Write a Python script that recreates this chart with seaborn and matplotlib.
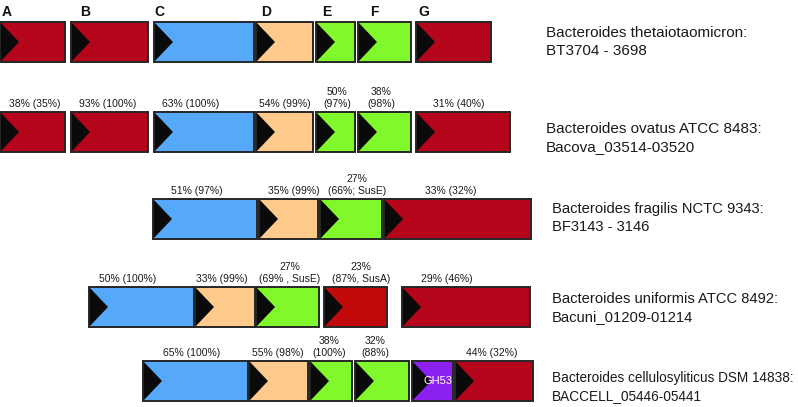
import matplotlib
matplotlib.use("Agg")
import matplotlib.pyplot as plt
from matplotlib.patches import Polygon, Rectangle
import seaborn as sns

# gene cluster data (positions, in map units)
species = ["Bacteroides thetaiotaomicron:", "Bacteroides ovatus ATCC 8483:",
           "Bacteroides fragilis NCTC 9343:", "Bacteroides uniformis ATCC 8492:",
           "Bacteroides cellulosyliticus DSM 14838:"]
loci = ["BT3704 - 3698", "Bacova_03514-03520", "BF3143 - 3146",
        "Bacuni_01209-01214", "BACCELL_05446-05441"]

row1_start = [0, 71, 154, 256, 316, 358, 416]
row1_end = [65, 148, 254, 313, 355, 411, 491]
row1_type = ["red", "red", "blue", "peach", "green", "green", "red"]
row1_letters = ["A", "B", "C", "D", "E", "F", "G"]
row1_letter_x = [2, 80, 154, 261, 322, 370, 418]

row2_start = [0, 71, 154, 256, 316, 358, 416]
row2_end = [65, 148, 254, 313, 355, 411, 510]
row2_type = ["red", "red", "blue", "peach", "green", "green", "red"]
row2_labels = ["38% (35%)", "93% (100%)", "63% (100%)", "54% (99%)",
               "50%\n(97%)", "38%\n(98%)", "31% (40%)"]
row2_label_x = [35, 108, 191, 285, 337, 381, 459]

row3_start = [153, 259, 320, 384]
row3_end = [257, 318, 382, 531]
row3_type = ["blue", "peach", "green", "red"]
row3_labels = ["51% (97%)", "35% (99%)", "27%\n(66%; SusE)", "33% (32%)"]
row3_label_x = [197, 294, 357, 451]

row4_start = [89, 195, 256, 324, 402]
row4_end = [194, 255, 319, 387, 530]
row4_type = ["blue", "peach", "green", "susa", "red"]
row4_labels = ["50% (100%)", "33% (99%)", "27%\n(69% , SusE)",
               "23%\n(87%, SusA)", "29% (46%)"]
row4_label_x = [128, 222, 290, 361, 447]

row5_start = [143, 249, 310, 355, 412, 455]
row5_end = [248, 308, 352, 409, 453, 533]
row5_type = ["blue", "peach", "green", "green", "purple", "red"]
row5_labels = ["65% (100%)", "55% (98%)", "38%\n(100%)", "32%\n(88%)", "", "44% (32%)"]
row5_label_x = [192, 278, 329, 375, 0, 492]

row_top = [22, 112, 199, 287, 361]
row_height = 40
species_x = [546, 546, 552, 552, 552]
species_y = [42, 138, 218, 308, 387]
species_size = [11, 11, 10.6, 10.6, 9.8]

colors = {"red": "#B4051A", "blue": "#55A8FA", "peach": "#FECB8C",
          "green": "#80F82C", "susa": "#C20A0A", "purple": "#8C20F0"}

sns.set_theme(style="white")
plt.rcParams["font.family"] = ["Liberation Sans", "DejaVu Sans"]

fig = plt.figure(figsize=(7.98, 4.07), dpi=100)
ax = fig.add_axes([0, 0, 1, 1])
ax.set_xlim(0, 798)
ax.set_ylim(407, 0)
ax.axis("off")


def draw_gene(x0, x1, top, kind):
    bottom = top + row_height
    mid = top + row_height / 2
    ax.add_patch(Rectangle((x0, top), x1 - x0, row_height, facecolor=colors[kind],
                           edgecolor="none", zorder=1))
    ax.add_patch(Polygon([(x0, top), (x0 + 19, mid), (x0, bottom)], closed=True,
                         facecolor="#0a0a0a", edgecolor="none", zorder=2))
    ax.add_patch(Rectangle((x0, top), x1 - x0, row_height, facecolor="none",
                           edgecolor="#262626", linewidth=1.4, zorder=3))


rows = [
    (row1_start, row1_end, row1_type, None, None),
    (row2_start, row2_end, row2_type, row2_labels, row2_label_x),
    (row3_start, row3_end, row3_type, row3_labels, row3_label_x),
    (row4_start, row4_end, row4_type, row4_labels, row4_label_x),
    (row5_start, row5_end, row5_type, row5_labels, row5_label_x),
]

for i, (starts, ends, kinds, labels, label_x) in enumerate(rows):
    top = row_top[i]
    for j in range(len(starts)):
        draw_gene(starts[j], ends[j], top, kinds[j])
        if labels is not None and labels[j]:
            ax.text(label_x[j], top - 3, labels[j], ha="center", va="bottom",
                    fontsize=7.5, color="#1a1a1a", linespacing=1.25)
        if kinds[j] == "purple":
            ax.text((starts[j] + ends[j]) / 2 + 5, top + row_height / 2, "GH53",
                    ha="center", va="center", fontsize=8, color="white", zorder=4)
    ax.text(species_x[i], species_y[i], species[i] + "\n" + loci[i], ha="left",
            va="center", fontsize=species_size[i], color="#1a1a1a", linespacing=1.35)

# gene letters above the first row
for lx, letter in zip(row1_letter_x, row1_letters):
    ax.text(lx, 11.5, letter, ha="left", va="center", fontsize=10,
            fontweight="bold", color="#111111")

fig.savefig("out.png", dpi=100)
